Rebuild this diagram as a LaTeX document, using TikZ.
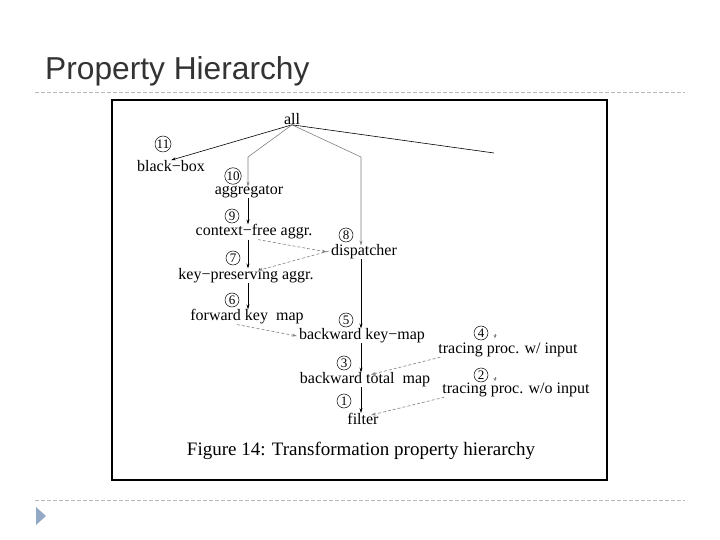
\documentclass[tikz,border=0pt]{standalone}
\usepackage{fontspec}
\setmainfont{Liberation Serif}
\newfontfamily\titlefont{Liberation Sans}
\usetikzlibrary{arrows.meta}
\definecolor{bulletblue}{HTML}{94A9C6}
\tikzset{
  prop/.style={font=\fontsize{16}{18}\selectfont, inner sep=0pt},
  num/.style={circle, draw, line width=0.5pt, inner sep=0.3pt, minimum size=14pt,
    font=\fontsize{13}{13}\selectfont},
  isa/.style={-{Stealth[length=5pt,width=3pt]}, line width=0.6pt},
  isagray/.style={isa, gray},
  weak/.style={isa, gray, dash pattern=on 3pt off 2pt},
  tiptick/.style={-{Stealth[length=3pt,width=3pt]}, gray, line width=0.4pt},
  rule/.style={gray!55, dash pattern=on 4pt off 2pt, line width=0.8pt}
}
\begin{document}
\begin{tikzpicture}[x=1pt,y=-1pt]
    \useasboundingbox (0,0) rectangle (720,540);
    % slide title and rules
    \node[anchor=base west, inner sep=0pt, text=black!80,
        font=\titlefont\fontsize{31.7}{33}\selectfont] (title) at (45,80) {Property Hierarchy};
    \draw[rule] (35,92) -- (685,92);
    \draw[rule] (35,500) -- (685,500);
    \fill[bulletblue] (36,507) -- (46,516) -- (36,525) -- cycle;
    % figure frame
    \draw[line width=1.4pt] (112,100) rectangle (607,480);
    % properties
    \node[prop] (all) at (292,119) {all};
    \node[prop] (bbox) at (171,166) {black−box};
    \node[prop] (aggr) at (249,192) {aggregator};
    \node[prop] (cfa) at (254,232) {context−free aggr.};
    \node[prop] (disp) at (364,252) {dispatcher};
    \node[prop] (kpa) at (246,276) {key−preserving aggr.};
    \node[prop] (fkm) at (247,317) {forward key\ \ map};
    \node[prop] (bkm) at (362,336) {backward key−map};
    \node[prop] (twi) at (508,350) {tracing proc. w/ input};
    \node[prop] (btm) at (365,380) {backward total\ \ map};
    \node[prop] (two) at (516,390) {tracing proc. w/o input};
    \node[prop] (filter) at (363,419) {filter};
    % circled numbers
    \node[num] (n11) at (163,144) {11};
    \node[num] (n10) at (233,176) {10};
    \node[num] (n9) at (232,216) {9};
    \node[num] (n8) at (346,235) {8};
    \node[num] (n7) at (233,258) {7};
    \node[num] (n6) at (232,300) {6};
    \node[num] (n5) at (346,320) {5};
    \node[num] (n4) at (481,333) {4};
    \node[num] (n3) at (344,363) {3};
    \node[num] (n2) at (481,375) {2};
    \node[num] (n1) at (344,401) {1};
    % caption
    \node[font=\fontsize{19}{21}\selectfont, inner sep=0pt] (caption) at (361,451)
        {Figure 14: Transformation property hierarchy};
    % helper coordinates
    \coordinate (colA) at (248,0);
    \coordinate (colB) at (361,0);
    \coordinate (aggbend) at (248,157);
    \coordinate (dspbend) at (361,157);
    \coordinate (farend) at (494,153);
    \coordinate (tip4a) at (495,334);
    \coordinate (tip4b) at (495,338);
    \coordinate (tip2a) at (495,377);
    \coordinate (tip2b) at (495,381);
    % edges from all
    \draw[isa] (all.south) -- (bbox.north);
    \draw[isagray] (all.south) -- (aggbend) -- ([yshift=-1pt]aggr.north -| colA);
    \draw[isagray] (all.south) -- (dspbend) -- ([yshift=-1pt]disp.north -| colB);
    \draw[line width=0.6pt] (all.south) -- (farend);
    \draw[tiptick] (tip4a) -- (tip4b);
    \draw[tiptick] (tip2a) -- (tip2b);
    % solid chain
    \draw[isa] (aggr.south -| colA) -- (cfa.north -| colA);
    \draw[isa] (cfa.south -| colA) -- (kpa.north -| colA);
    \draw[isa] (kpa.south -| colA) -- (fkm.north -| colA);
    \draw[isa] (disp.south -| colB) -- (bkm.north -| colB);
    \draw[isa] (bkm.south -| colB) -- (btm.north -| colB);
    \draw[isa] (btm.south -| colB) -- (filter.north -| colB);
    % dashed edges
    \draw[weak] ([xshift=4pt]cfa.south) -- ([xshift=-4pt]disp.west);
    \draw[weak] ([xshift=-2pt,yshift=1pt]disp.west) -- ([xshift=12pt,yshift=-2pt]kpa.north);
    \draw[weak] ([xshift=-10pt]fkm.south) -- ([xshift=-2pt]bkm.west);
    \draw[weak] ([xshift=2pt]twi.south west) -- ([xshift=6pt,yshift=-2pt]btm.north);
    \draw[weak] ([xshift=2pt]two.south west) -- ([xshift=8pt,yshift=-2pt]filter.north);
\end{tikzpicture}
\end{document}
